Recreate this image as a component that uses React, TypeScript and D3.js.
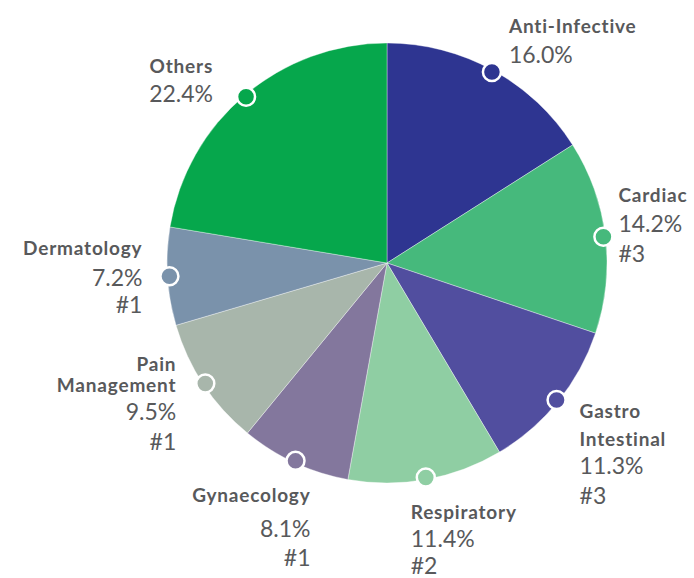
import React from 'react';
import * as d3 from 'd3';

// therapy areas, clockwise from 12 o'clock
const categories = ['Anti-Infective', 'Cardiac', 'Gastro Intestinal', 'Respiratory', 'Gynaecology', 'Pain Management', 'Dermatology', 'Others'];
const shares = [16.0, 14.2, 11.3, 11.4, 8.1, 9.5, 7.2, 22.4];
const ranks = ['', '#3', '#3', '#2', '#1', '#1', '#1', ''];
const colors = ['#2e3591', '#46b97c', '#514e9f', '#8fcea3', '#83779d', '#a8b6ab', '#7a92ab', '#06a74c'];

// label placement relative to the dot on the rim
const labelLayout: Record<string, { anchor: string; dx: number; title: string[]; dys: number[] }> = {
  'Anti-Infective': { anchor: 'start', dx: 17, title: ['Anti-Infective'], dys: [-39, -9] },
  'Cardiac': { anchor: 'start', dx: 15, title: ['Cardiac'], dys: [-35, -5, 25] },
  'Gastro Intestinal': { anchor: 'start', dx: 23, title: ['Gastro', 'Intestinal'], dys: [18, 46, 74, 104] },
  'Respiratory': { anchor: 'start', dx: -15, title: ['Respiratory'], dys: [41, 69, 96] },
  'Gynaecology': { anchor: 'end', dx: 15, title: ['Gynaecology'], dys: [41, 76, 105] },
  'Pain Management': { anchor: 'end', dx: -29, title: ['Pain', 'Management'], dys: [-12, 9, 37, 67] },
  'Dermatology': { anchor: 'end', dx: -27, title: ['Dermatology'], dys: [-21, 10, 37] },
  'Others': { anchor: 'end', dx: -33, title: ['Others'], dys: [-24, 5] },
};

const width = 694;
const height = 578;
const cx = 387;
const cy = 263;
const radius = 220;

export default function App() {
  const data = categories.map((c, i) => ({ name: c, value: shares[i], rank: ranks[i], color: colors[i] }));
  const pie = d3.pie<any>().sort(null).value(d => d.value);
  const arcs = pie(data);
  const arc = d3.arc<any>().innerRadius(0).outerRadius(radius);
  const rim = d3.arc<any>().innerRadius(radius - 2).outerRadius(radius - 2);

  return (
    <svg width={width} height={height} style={{ position: 'absolute', left: 0, top: 0 }}>
      <g transform={`translate(${cx},${cy})`}>
        {arcs.map((a, i) => (
          <path key={i} d={arc(a) as string} fill={a.data.color} stroke="#ffffff" strokeOpacity={0.6} strokeWidth={0.6} />
        ))}
        {arcs.map((a, i) => {
          const [x, y] = rim.centroid(a);
          const lay = labelLayout[a.data.name];
          const lines: { text: string; bold: boolean }[] = [
            ...lay.title.map(t => ({ text: t, bold: true })),
            { text: d3.format('.1f')(a.data.value) + '%', bold: false },
          ];
          if (a.data.rank) lines.push({ text: a.data.rank, bold: false });
          return (
            <g key={'l' + i}>
              <circle cx={x} cy={y} r={9} fill={a.data.color} stroke="#ffffff" strokeWidth={2.5} />
              {lines.map((ln, j) => (
                <text
                  key={j}
                  x={x + lay.dx}
                  y={y + lay.dys[j]}
                  textAnchor={lay.anchor}
                  fontFamily="Lato, 'Open Sans', sans-serif"
                  fontWeight={ln.bold ? 700 : 400}
                  fontSize={ln.bold ? 19 : 23}
                  letterSpacing={ln.bold ? 0.8 : 0}
                  fill="#58595b"
                >
                  {ln.text}
                </text>
              ))}
            </g>
          );
        })}
      </g>
    </svg>
  );
}
